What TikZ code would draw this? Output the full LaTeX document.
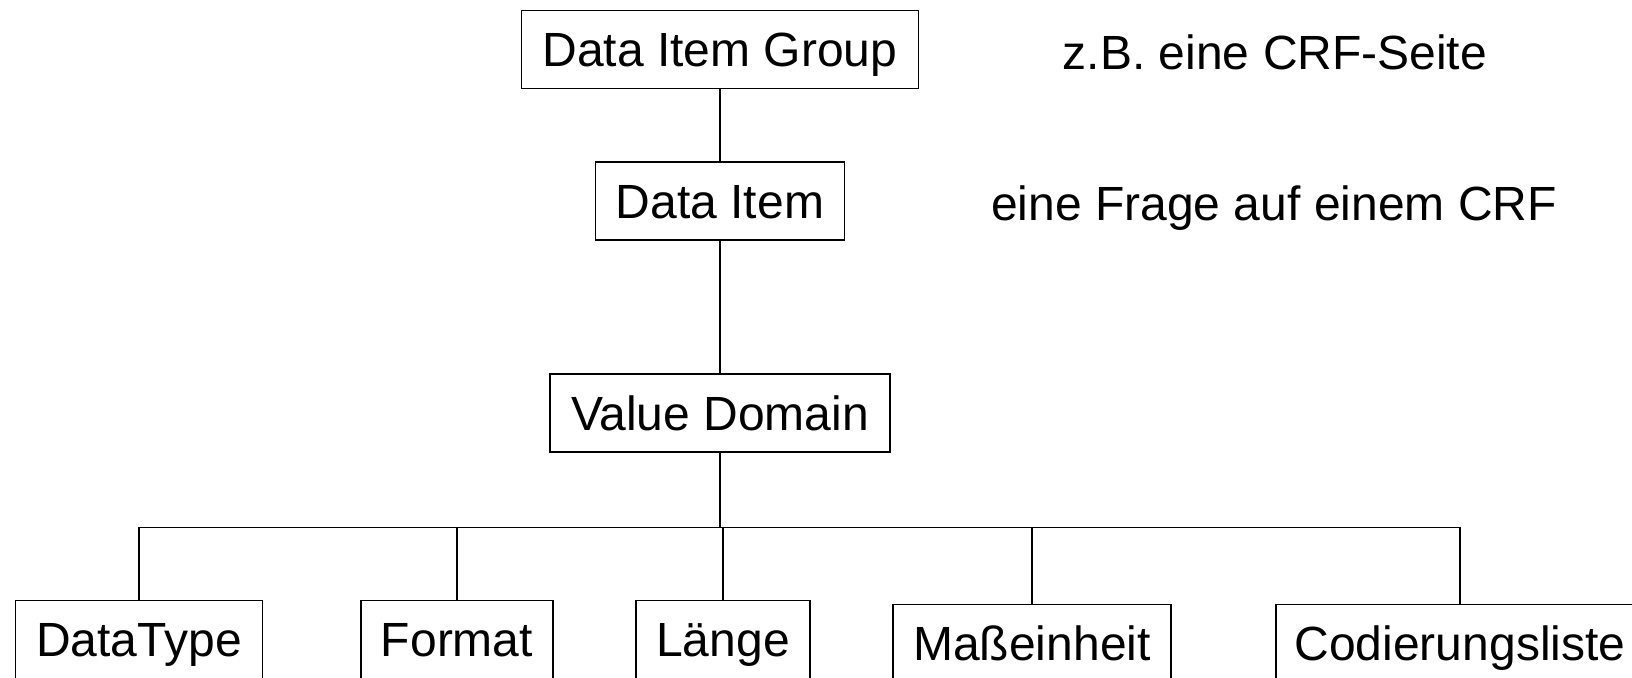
\documentclass[tikz,border=0pt]{standalone}
\usepackage{fontspec}
\setmainfont{Liberation Sans}
\begin{document}
\begin{tikzpicture}[
        x=0.5pt, y=-0.5pt,
        line width=0.75pt,
        box/.style={draw, inner sep=0pt, minimum height=39pt,
                font=\fontsize{24}{29}\selectfont, text height=17.2pt, text depth=0pt},
        note/.style={inner sep=0pt, font=\fontsize{24}{29}\selectfont,
                text height=17.2pt, text depth=0pt},
        ]
        \useasboundingbox (0,0) rectangle (1632,677);
        \node[box, minimum width=198.5pt] (dig) at (720,49.5) {Data Item Group};
        \node[box, minimum width=124.5pt] (di) at (720,201) {Data Item};
        \node[box, minimum width=170pt] (vd) at (720,413) {Value Domain};
        \node[box, minimum width=123.5pt] (dt) at (139,639.5) {DataType};
        \node[box, minimum width=96pt] (fmt) at (457,639.5) {Format};
        \node[box, minimum width=87pt] (lng) at (723,639.5) {Länge};
        \node[box, minimum width=139pt] (mass) at (1032,643.5) {Maßeinheit};
        \node[box, minimum width=184pt] (cod) at (1460,643.5) {Codierungsliste};
        \node[note] (seite) at (1275,52) {z.B. eine CRF-Seite};
        \node[note] (frage) at (1274,203) {eine Frage auf einem CRF};
        \coordinate (bus) at (720,527.5);
        \draw (dig.south) -- (di.north);
        \draw (di.south) -- (vd.north);
        \draw (vd.south) -- (bus);
        \foreach \n in {dt,fmt,lng,mass,cod}
                \draw (bus) -| (\n.north);
        \end{tikzpicture}
\end{document}
